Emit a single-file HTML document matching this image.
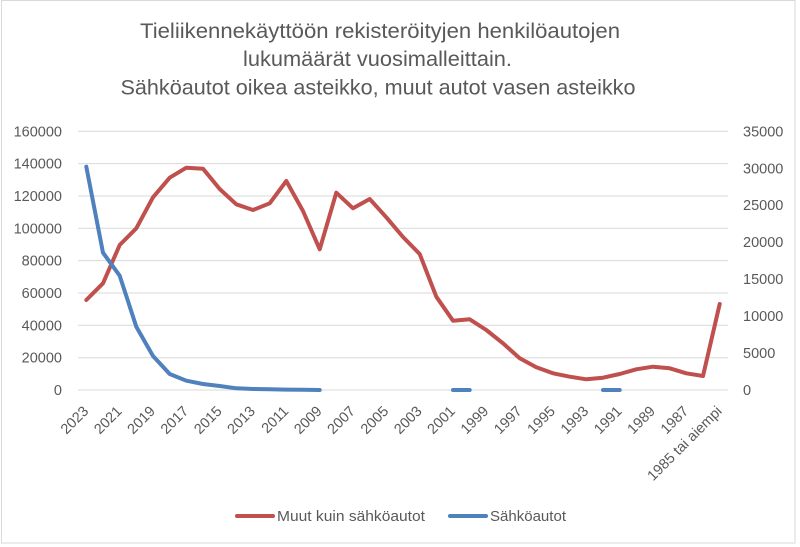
<!DOCTYPE html>
<html>
<head>
<meta charset="utf-8">
<style>
html,body{margin:0;padding:0;background:#fff;}
svg{display:block;}
text{font-family:"Liberation Sans",sans-serif;fill:#595959;}
</style>
</head>
<body>
<svg width="800" height="547" viewBox="0 0 800 547" xmlns="http://www.w3.org/2000/svg">
<rect x="0" y="0" width="800" height="547" fill="#fff"/>
<rect x="1.5" y="0.5" width="793.5" height="542.5" fill="none" stroke="#d9d9d9" stroke-width="1"/>

<!-- Title -->
<text x="380" y="38" font-size="21" text-anchor="middle" textLength="480" lengthAdjust="spacingAndGlyphs">Tieliikennekäyttöön rekisteröityjen henkilöautojen</text>
<text x="377.5" y="66" font-size="21" text-anchor="middle" textLength="269" lengthAdjust="spacingAndGlyphs">lukumäärät vuosimalleittain.</text>
<text x="378" y="94.5" font-size="21" text-anchor="middle" textLength="515" lengthAdjust="spacingAndGlyphs">Sähköautot oikea asteikko, muut autot vasen asteikko</text>

<!-- Gridlines -->
<g stroke="#d9d9d9" stroke-width="1">
<line x1="78" y1="131.3" x2="728" y2="131.3"/>
<line x1="78" y1="163.6" x2="728" y2="163.6"/>
<line x1="78" y1="196" x2="728" y2="196"/>
<line x1="78" y1="228.3" x2="728" y2="228.3"/>
<line x1="78" y1="260.6" x2="728" y2="260.6"/>
<line x1="78" y1="293" x2="728" y2="293"/>
<line x1="78" y1="325.3" x2="728" y2="325.3"/>
<line x1="78" y1="357.7" x2="728" y2="357.7"/>
<line x1="78" y1="390" x2="728" y2="390"/>
</g>

<!-- Left axis labels -->
<g font-size="14.5" text-anchor="end">
<text x="62" y="136.3">160000</text>
<text x="62" y="168.6">140000</text>
<text x="62" y="201">120000</text>
<text x="62" y="233.3">100000</text>
<text x="62" y="265.6">80000</text>
<text x="62" y="298">60000</text>
<text x="62" y="330.3">40000</text>
<text x="62" y="362.7">20000</text>
<text x="62" y="395">0</text>
</g>

<!-- Right axis labels -->
<g font-size="14.5" text-anchor="start">
<text x="743" y="136.3">35000</text>
<text x="743" y="173.3">30000</text>
<text x="743" y="210.2">25000</text>
<text x="743" y="247.2">20000</text>
<text x="743" y="284.1">15000</text>
<text x="743" y="321.1">10000</text>
<text x="743" y="358">5000</text>
<text x="743" y="395">0</text>
</g>

<!-- X axis labels -->
<g font-size="14.5" text-anchor="end">
<text transform="translate(89.3,412) rotate(-45)">2023</text>
<text transform="translate(122.7,412) rotate(-45)">2021</text>
<text transform="translate(156,412) rotate(-45)">2019</text>
<text transform="translate(189.3,412) rotate(-45)">2017</text>
<text transform="translate(222.7,412) rotate(-45)">2015</text>
<text transform="translate(256,412) rotate(-45)">2013</text>
<text transform="translate(289.3,412) rotate(-45)">2011</text>
<text transform="translate(322.7,412) rotate(-45)">2009</text>
<text transform="translate(356,412) rotate(-45)">2007</text>
<text transform="translate(389.3,412) rotate(-45)">2005</text>
<text transform="translate(422.7,412) rotate(-45)">2003</text>
<text transform="translate(456,412) rotate(-45)">2001</text>
<text transform="translate(489.3,412) rotate(-45)">1999</text>
<text transform="translate(522.7,412) rotate(-45)">1997</text>
<text transform="translate(556,412) rotate(-45)">1995</text>
<text transform="translate(589.3,412) rotate(-45)">1993</text>
<text transform="translate(622.7,412) rotate(-45)">1991</text>
<text transform="translate(656,412) rotate(-45)">1989</text>
<text transform="translate(689.3,412) rotate(-45)">1987</text>
<text transform="translate(722.7,412) rotate(-45)">1985 tai aiempi</text>
</g>

<!-- Red series -->
<polyline fill="none" stroke="#c0504d" stroke-width="4" stroke-linejoin="round" stroke-linecap="round"
points="86.3,300 103,283.3 119.7,245 136.3,228.3 153,197.3 169.7,177.7 186.3,167.7 203,168.7 219.7,189 236.3,204.3 253,210 269.7,203.3 286.3,181 303,211 319.7,249.3 336.3,192.7 353,208.3 369.7,199 386.3,217.3 403,237 419.7,254 436.3,296.7 453,320.7 469.7,319.3 486.3,330 503,343.3 519.7,358.3 536.3,367.3 553,373.3 569.7,376.7 586.3,379.3 603,377.7 619.7,374 636.3,369.3 653,366.7 669.7,368.3 686.3,373.3 703,376 719.7,304"/>

<!-- Blue series -->
<g fill="none" stroke="#4f81bd" stroke-width="4" stroke-linejoin="round" stroke-linecap="round">
<polyline points="86.3,166.7 103,252.7 119.7,275.7 136.3,326.7 153,356 169.7,374 186.3,380.7 203,384 219.7,386 236.3,388.3 253,389 269.7,389.3 286.3,389.6 303,389.8 319.7,390"/>
<line x1="453" y1="390" x2="469.7" y2="390"/>
<line x1="603" y1="390" x2="619.7" y2="390"/>
</g>

<!-- Legend -->
<line x1="237" y1="516" x2="273" y2="516" stroke="#c0504d" stroke-width="4" stroke-linecap="round"/>
<text x="277" y="521" font-size="15" textLength="148" lengthAdjust="spacingAndGlyphs">Muut kuin sähköautot</text>
<line x1="450" y1="516" x2="486" y2="516" stroke="#4f81bd" stroke-width="4" stroke-linecap="round"/>
<text x="490" y="521" font-size="15" textLength="76" lengthAdjust="spacingAndGlyphs">Sähköautot</text>
</svg>
</body>
</html>
